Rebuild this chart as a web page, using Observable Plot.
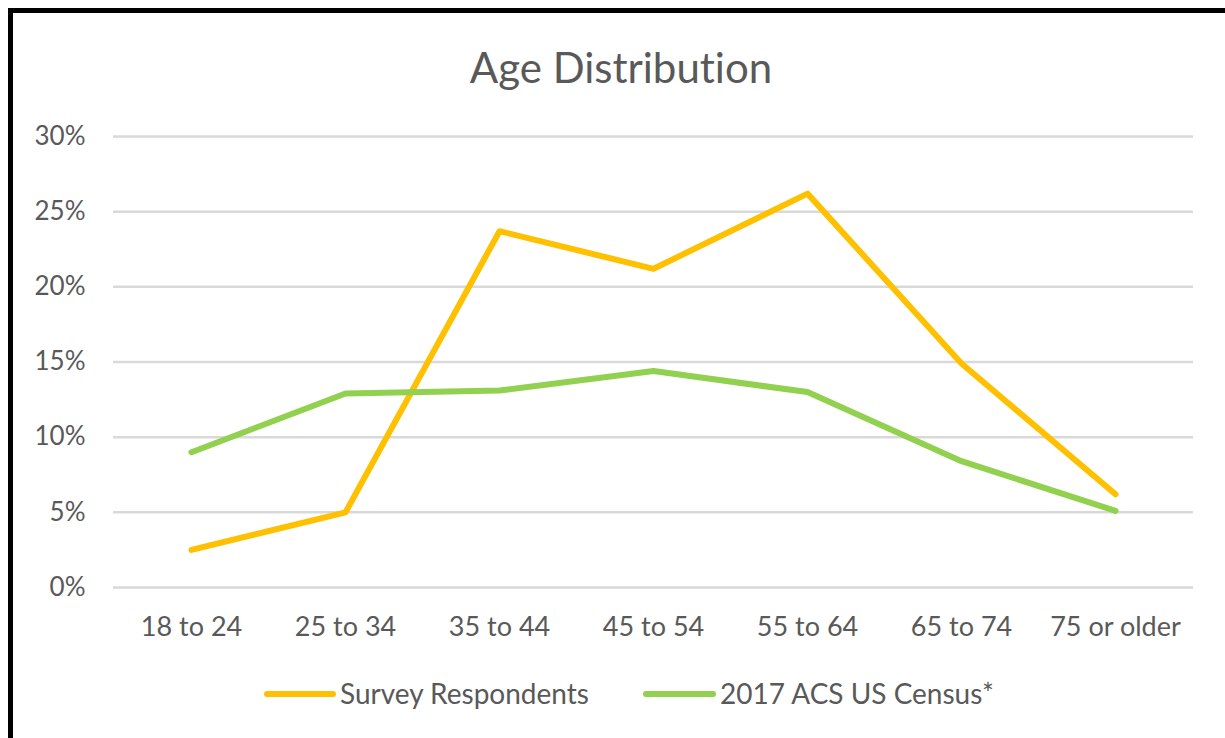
<!DOCTYPE html>
<html>
<head>
<meta charset="utf-8">
<script src="https://cdn.jsdelivr.net/npm/d3@7"></script>
<script src="https://cdn.jsdelivr.net/npm/@observablehq/plot@0.6"></script>
<style>
  html, body { margin: 0; padding: 0; background: #fff; overflow: hidden; }
  #wrap { position: relative; width: 1225px; height: 738px; overflow: hidden; font-family: Lato, "Open Sans", sans-serif; color: #595959; font-variant-ligatures: none; }
  #frame { position: absolute; left: 8px; top: 8px; width: 1400px; height: 900px; border-left: 5px solid #000; border-top: 5px solid #000; box-sizing: border-box; }
  #title { position: absolute; left: 0; width: 1242px; top: 40px; text-align: center; font-size: 42px; line-height: 54px; font-variant-ligatures: none; }
  #chart { position: absolute; left: 0; top: 0; }
  .legend { position: absolute; top: 675px; font-size: 28px; line-height: 36px; white-space: nowrap; }
  .swatch { position: absolute; top: 16px; height: 6px; border-radius: 3px; }
</style>
</head>
<body>
<div id="wrap">
  <div id="frame"></div>
  <div id="title">Age Distribution</div>
  <div id="chart"></div>
  <div id="legend"></div>
</div>
<script>
const categories = ["18 to 24", "25 to 34", "35 to 44", "45 to 54", "55 to 64", "65 to 74", "75 or older"];
const seriesNames = ["Survey Respondents", "2017 ACS US Census*"];
const surveyValues = [0.025, 0.050, 0.237, 0.212, 0.262, 0.149, 0.062];
const censusValues = [0.090, 0.129, 0.131, 0.144, 0.130, 0.084, 0.051];
const seriesColors = ["#FFC000", "#92D050"];
const yTicks = [0, 0.05, 0.10, 0.15, 0.20, 0.25, 0.30];

const data = [];
categories.forEach((c, i) => data.push({age: c, value: surveyValues[i], series: seriesNames[0]}));
categories.forEach((c, i) => data.push({age: c, value: censusValues[i], series: seriesNames[1]}));

const chart = Plot.plot({
  width: 1225,
  height: 660,
  marginLeft: 113,
  marginRight: 32,
  marginTop: 136,
  marginBottom: 73,
  style: {fontFamily: "Lato, 'Open Sans', sans-serif", fontSize: "26px", color: "#595959", background: "transparent", overflow: "visible"},
  x: {type: "point", domain: categories, padding: 0.5, label: null},
  y: {domain: [0, 0.30], label: null},
  color: {domain: seriesNames, range: seriesColors},
  marks: [
    Plot.ruleY(yTicks, {stroke: "#D9D9D9", strokeWidth: 2.5, strokeOpacity: 1}),
    Plot.axisY({ticks: yTicks, tickFormat: d3.format(".0%"), tickSize: 0, tickPadding: 28, fill: "#595959", fontSize: 26, label: null}),
    Plot.axisX({tickSize: 0, tickPadding: 29, fill: "#595959", fontSize: 27, label: null}),
    Plot.line(data, {x: "age", y: "value", stroke: "series", z: "series", strokeWidth: 6, strokeLinecap: "round", strokeLinejoin: "round"})
  ]
});
document.getElementById("chart").appendChild(chart);

const legend = document.getElementById("legend");
const legendPos = [{sw: 264, sx: 72, tx: 340}, {sw: 643, sx: 73, tx: 720}];
seriesNames.forEach((name, i) => {
  const item = document.createElement("div");
  item.className = "legend";
  item.style.left = legendPos[i].sw + "px";
  const sw = document.createElement("div");
  sw.className = "swatch";
  sw.style.left = "0px";
  sw.style.width = legendPos[i].sx + "px";
  sw.style.background = seriesColors[i];
  item.appendChild(sw);
  const t = document.createElement("span");
  t.style.position = "absolute";
  t.style.left = (legendPos[i].tx - legendPos[i].sw) + "px";
  t.textContent = name;
  item.appendChild(t);
  legend.appendChild(item);
});
</script>
</body>
</html>
